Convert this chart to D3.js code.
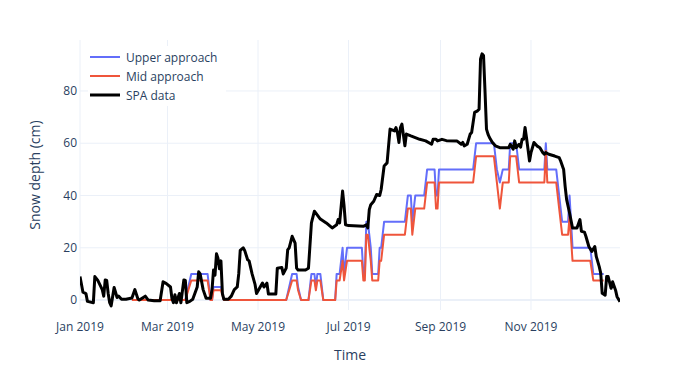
<!DOCTYPE html>
<html>
<head>
<meta charset="utf-8">
<script src="https://d3js.org/d3.v7.min.js"></script>
<style>
  body { margin: 0; background: #fff; }
  text { font-family: "Open Sans", sans-serif; fill: #2a3f5f; }
</style>
</head>
<body>
<div id="chart"></div>
<script>
// SPA measured snow depth (cm)
var spaDates = [
  "2019-01-01","2019-01-03","2019-01-05","2019-01-06","2019-01-10","2019-01-11","2019-01-13","2019-01-16","2019-01-17","2019-01-18","2019-01-19","2019-01-20","2019-01-21","2019-01-22","2019-01-24","2019-01-26","2019-01-27","2019-01-29",
  "2019-02-01","2019-02-05","2019-02-07","2019-02-09","2019-02-10","2019-02-14","2019-02-16","2019-02-20","2019-02-24","2019-02-26","2019-02-28",
  "2019-03-03","2019-03-04","2019-03-05","2019-03-06","2019-03-07","2019-03-09","2019-03-10","2019-03-12","2019-03-13","2019-03-14","2019-03-16","2019-03-18","2019-03-21","2019-03-22","2019-03-23","2019-03-25","2019-03-27","2019-03-30","2019-03-31",
  "2019-04-01","2019-04-02","2019-04-03","2019-04-04","2019-04-05","2019-04-06","2019-04-07","2019-04-08","2019-04-11","2019-04-13","2019-04-15","2019-04-17","2019-04-18","2019-04-19","2019-04-21","2019-04-22","2019-04-24","2019-04-25","2019-04-26","2019-04-27","2019-04-29","2019-04-30",
  "2019-05-02","2019-05-04","2019-05-05","2019-05-07","2019-05-08","2019-05-13","2019-05-14","2019-05-17","2019-05-18","2019-05-20","2019-05-21","2019-05-22","2019-05-24","2019-05-26","2019-05-27","2019-05-28",
  "2019-06-02","2019-06-04","2019-06-06","2019-06-08","2019-06-12","2019-06-16","2019-06-20","2019-06-23","2019-06-24","2019-06-25","2019-06-27","2019-06-28","2019-06-29",
  "2019-07-01","2019-07-11","2019-07-13","2019-07-14","2019-07-15","2019-07-16","2019-07-18","2019-07-20","2019-07-22","2019-07-23","2019-07-25","2019-07-27","2019-07-28","2019-07-29",
  "2019-08-01","2019-08-02","2019-08-03","2019-08-04","2019-08-05","2019-08-06","2019-08-08","2019-08-09","2019-08-12","2019-08-18","2019-08-22","2019-08-26","2019-08-27","2019-08-29","2019-08-30",
  "2019-09-02","2019-09-05","2019-09-12","2019-09-15","2019-09-16","2019-09-17","2019-09-19","2019-09-21","2019-09-22","2019-09-24","2019-09-26","2019-09-27","2019-09-28","2019-09-29","2019-09-30",
  "2019-10-01","2019-10-02","2019-10-03","2019-10-04","2019-10-06","2019-10-08","2019-10-11","2019-10-17","2019-10-18","2019-10-20","2019-10-21","2019-10-22","2019-10-24","2019-10-25","2019-10-26","2019-10-27","2019-10-28","2019-10-29","2019-10-30","2019-10-31",
  "2019-11-01","2019-11-03","2019-11-05","2019-11-07","2019-11-09","2019-11-10","2019-11-11","2019-11-13","2019-11-17","2019-11-20","2019-11-21","2019-11-23","2019-11-24","2019-11-25","2019-11-27","2019-11-29",
  "2019-12-02","2019-12-04","2019-12-05","2019-12-07","2019-12-08","2019-12-10","2019-12-12","2019-12-14","2019-12-15","2019-12-17","2019-12-18","2019-12-19","2019-12-21","2019-12-22","2019-12-23","2019-12-25","2019-12-26","2019-12-28","2019-12-29","2019-12-31"
];
var spaDepth = [
  9,3,2.5,-0.5,-1,9,7.5,4,1.5,7.7,7.5,2.5,-1,-2.2,4.8,1,1.5,0.3,
  0.3,0.8,4,0.5,0,1.5,0,-0.3,-0.3,7,6.4,
  5,0.5,-1,2,-1,2.5,-1,7.7,7.5,-1,-0.5,0.3,5,10.8,10,4,0.7,0.7,4,
  11.5,9.5,17.7,16,12,15,2.5,0.3,0.3,1.5,4,5,10,19,20,19,15.4,15,12.5,10,6,2.5,
  4.5,6.5,5,6.5,2.3,2.3,12.2,12.5,10,12.2,19.2,20,24.4,21.8,12.2,11.5,
  11.5,12.2,29.5,34,31,29.5,27.6,28.8,30.8,29.5,41.7,36,28.8,
  28.5,28.2,28.8,27.6,34.6,36.5,37.8,40.4,40,42.3,51.3,52.5,59,65.4,
  64.7,66,64,60.3,66,67.3,59,63.5,62.8,61.5,60.9,59.6,61.5,61.5,60.9,
  61.5,61,60.9,59.6,60.3,59,59.6,63.5,64.1,71.8,72.4,73,92.3,94.2,93.6,
  80,65.4,63.5,62.2,60.3,59,58.3,58.3,59.6,57.7,60.9,58.3,59.6,58.5,61.5,61.5,66,62,57.7,53.2,
  56.4,60.3,59,58.3,56.4,55.8,56.4,55.8,55.1,54.5,53.2,50,43.6,38.5,33.3,27.6,
  27.6,30.8,26.3,26,24.4,20.5,18.6,20.5,16.7,12.8,10.3,2.6,1.9,9,9,4.5,7,3.8,1.3,-0.6
];

// modelled approaches, same dates for both
var approachDates = [
  "2019-02-05","2019-03-13","2019-03-15","2019-03-17","2019-03-28","2019-03-30","2019-03-31","2019-04-01","2019-04-06","2019-04-08",
  "2019-05-20","2019-05-22","2019-05-24","2019-05-27","2019-05-28","2019-05-30",
  "2019-06-04","2019-06-06","2019-06-08","2019-06-09","2019-06-10","2019-06-12","2019-06-14",
  "2019-06-22","2019-06-23","2019-06-25","2019-06-27","2019-06-28","2019-06-30",
  "2019-07-10","2019-07-11","2019-07-12","2019-07-13","2019-07-14","2019-07-16","2019-07-17","2019-07-21","2019-07-22","2019-07-23","2019-07-25",
  "2019-08-08","2019-08-10","2019-08-12","2019-08-13","2019-08-15","2019-08-21","2019-08-23","2019-08-28","2019-08-29","2019-08-30","2019-08-31",
  "2019-09-23","2019-09-25",
  "2019-10-07","2019-10-09","2019-10-11","2019-10-13","2019-10-17","2019-10-18","2019-10-22","2019-10-24",
  "2019-11-10","2019-11-11","2019-11-12","2019-11-18","2019-11-20","2019-11-22","2019-11-26","2019-11-27","2019-11-29",
  "2019-12-11","2019-12-13","2019-12-20"
];
var upperDepth = [
  0,0,5,10,10,0,0,5,5,0,
  0,5,10,10,5,0,
  0,10,10,5,10,10,0,
  0,10,10,20,10,20,
  20,10,10,30,30,20,10,10,20,20,30,
  30,40,40,30,40,40,50,50,40,40,50,
  50,60,
  60,50,45,50,50,60,60,50,
  50,60,50,50,40,30,30,40,20,
  20,10,10
];
var midDepth = [
  0,0,3.75,7.5,7.5,0,0,3.75,3.75,0,
  0,3.75,7.5,7.5,3.75,0,
  0,7.5,7.5,3.75,7.5,7.5,0,
  0,7.5,7.5,15,7.5,15,
  15,7.5,7.5,25,25,15,7.5,7.5,15,15,25,
  25,35,35,25,35,35,45,45,35,35,45,
  45,55,
  55,45,35,45,45,55,55,45,
  45,57,45,45,35,25,25,32,15,
  15,7.5,7.5
];

var yTicks = [0, 20, 40, 60, 80];
var seriesNames = ["Upper approach", "Mid approach", "SPA data"];
var seriesColors = ["#636efa", "#EF553B", "#000000"];
var seriesWidths = [2, 2, 3];

var width = 700, height = 370;
var margin = {left: 80, right: 80, top: 40, bottom: 60};
var parse = d3.timeParse("%Y-%m-%d");

var svg = d3.select("#chart").append("svg")
    .attr("width", width)
    .attr("height", height);

var x = d3.scaleTime()
    .domain([parse("2019-01-01"), parse("2019-12-31")])
    .range([margin.left, width - margin.right]);
var y = d3.scaleLinear()
    .domain([-3.8, 99.5])
    .range([height - margin.bottom, margin.top]);

// grid
var xTickVals = x.ticks(d3.timeMonth.every(2));
svg.append("g").selectAll("line")
    .data(xTickVals).enter().append("line")
    .attr("x1", d => x(d)).attr("x2", d => x(d))
    .attr("y1", margin.top).attr("y2", height - margin.bottom)
    .attr("stroke", "#EBF0F8").attr("stroke-width", 1);
svg.append("g").selectAll("line")
    .data(yTicks).enter().append("line")
    .attr("x1", margin.left).attr("x2", width - margin.right)
    .attr("y1", d => y(d)).attr("y2", d => y(d))
    .attr("stroke", "#EBF0F8")
    .attr("stroke-width", d => d === 0 ? 2 : 1);

// tick labels
svg.append("g").selectAll("text")
    .data(xTickVals).enter().append("text")
    .attr("x", d => x(d))
    .attr("y", height - margin.bottom + 21)
    .attr("text-anchor", "middle")
    .style("font-size", "12px")
    .text(d3.timeFormat("%b %Y"));
svg.append("g").selectAll("text")
    .data(yTicks).enter().append("text")
    .attr("x", margin.left - 3)
    .attr("y", d => y(d) + 4)
    .attr("text-anchor", "end")
    .style("font-size", "12px")
    .text(d => d);

// axis titles
svg.append("text")
    .attr("x", (margin.left + width - margin.right) / 2)
    .attr("y", 360)
    .attr("text-anchor", "middle")
    .style("font-size", "14px")
    .text("Time");
svg.append("text")
    .attr("transform", "translate(40," + ((margin.top + height - margin.bottom) / 2) + ") rotate(-90)")
    .attr("text-anchor", "middle")
    .style("font-size", "14px")
    .text("Snow depth (cm)");

// lines
svg.append("clipPath").attr("id", "plotclip")
  .append("rect")
    .attr("x", margin.left).attr("y", margin.top)
    .attr("width", width - margin.left - margin.right)
    .attr("height", height - margin.top - margin.bottom);

var line = d3.line()
    .x(d => x(d[0]))
    .y(d => y(d[1]));

var series = [
  d3.zip(approachDates.map(parse), upperDepth),
  d3.zip(approachDates.map(parse), midDepth),
  d3.zip(spaDates.map(parse), spaDepth)
];

svg.append("g").attr("clip-path", "url(#plotclip)")
  .selectAll("path")
    .data(series).enter().append("path")
    .attr("d", line)
    .attr("fill", "none")
    .attr("stroke", (d, i) => seriesColors[i])
    .attr("stroke-width", (d, i) => seriesWidths[i])
    .attr("stroke-linejoin", "round");

// legend
var legend = svg.append("g").attr("transform", "translate(88,46)");
legend.append("rect")
    .attr("width", 138).attr("height", 60)
    .attr("fill", "#fff");
var item = legend.selectAll("g.item")
    .data(seriesNames).enter().append("g")
    .attr("transform", (d, i) => "translate(0," + (11 + i * 19) + ")");
item.append("line")
    .attr("x1", 2).attr("x2", 32)
    .attr("stroke", (d, i) => seriesColors[i])
    .attr("stroke-width", (d, i) => seriesWidths[i]);
item.append("text")
    .attr("x", 38).attr("y", 4.5)
    .style("font-size", "12px")
    .text(d => d);
</script>
</body>
</html>
